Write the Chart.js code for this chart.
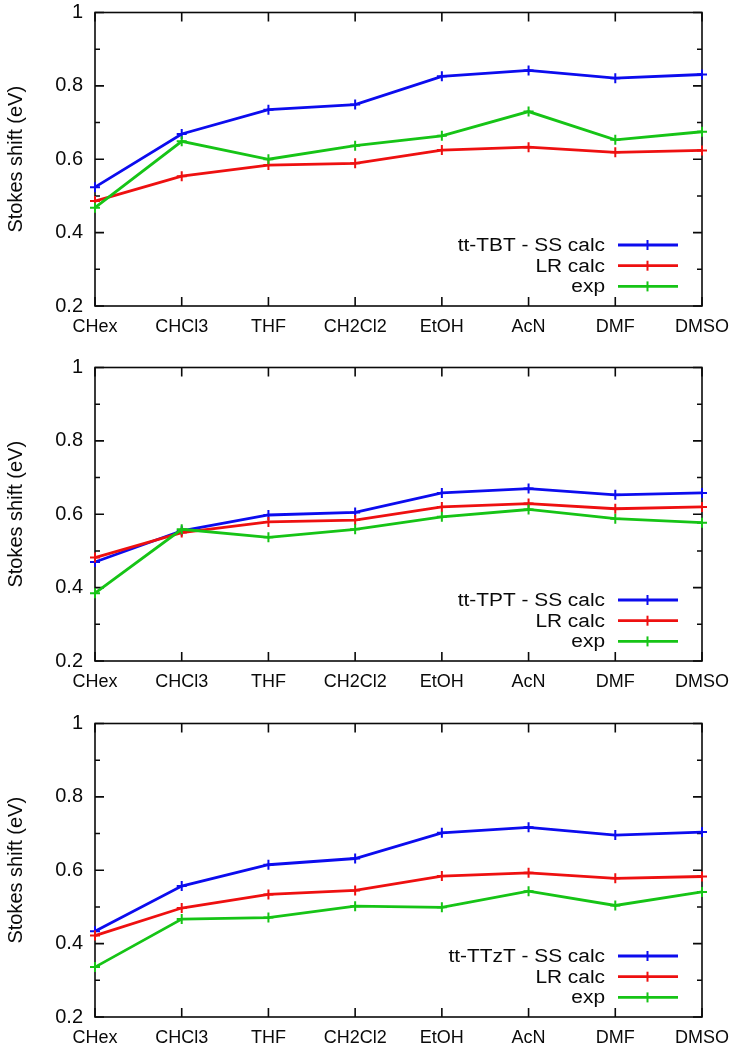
<!DOCTYPE html>
<html>
<head>
<meta charset="utf-8">
<script src="https://cdn.jsdelivr.net/npm/chart.js@4.4.1/dist/chart.umd.min.js"></script>
<style>
  html, body { margin: 0; padding: 0; background: #ffffff; }
  #wrap { position: relative; width: 732px; height: 1050px; background: #ffffff; }
  canvas { position: absolute; left: 0; }
</style>
</head>
<body>
<div id="wrap">
  <canvas id="c1" width="732" height="356" style="top:0px"></canvas>
  <canvas id="c2" width="732" height="356" style="top:355px"></canvas>
  <canvas id="c3" width="732" height="340" style="top:711px"></canvas>
</div>
<script>
// ---- data ----
const categories = ['CHex', 'CHCl3', 'THF', 'CH2Cl2', 'EtOH', 'AcN', 'DMF', 'DMSO'];
const yTickLabels = ['0.2', '0.4', '0.6', '0.8', '1'];
const yAxisTitle = 'Stokes shift (eV)';

const tbtLabels = ['tt-TBT - SS calc', 'LR calc', 'exp'];
const tbtSS  = [0.524, 0.669, 0.735, 0.749, 0.826, 0.842, 0.821, 0.831];
const tbtLR  = [0.486, 0.554, 0.584, 0.589, 0.625, 0.633, 0.619, 0.624];
const tbtExp = [0.468, 0.649, 0.600, 0.637, 0.664, 0.730, 0.653, 0.675];

const tptLabels = ['tt-TPT - SS calc', 'LR calc', 'exp'];
const tptSS  = [0.470, 0.555, 0.598, 0.605, 0.658, 0.670, 0.653, 0.658];
const tptLR  = [0.482, 0.550, 0.579, 0.584, 0.620, 0.629, 0.615, 0.620];
const tptExp = [0.385, 0.559, 0.537, 0.559, 0.593, 0.613, 0.588, 0.577];

const ttztLabels = ['tt-TTzT - SS calc', 'LR calc', 'exp'];
const ttztSS  = [0.434, 0.557, 0.615, 0.632, 0.702, 0.717, 0.696, 0.704];
const ttztLR  = [0.422, 0.497, 0.534, 0.545, 0.584, 0.593, 0.578, 0.583];
const ttztExp = [0.336, 0.467, 0.471, 0.502, 0.499, 0.543, 0.504, 0.541];

// ---- styling ----
const COLORS = ['#0c0cee', '#ee1010', '#16c416'];
const FONT = "'Liberation Sans', Arial, Helvetica, sans-serif";
const INK = '#0a0a0a';

const frameTicks = {
  id: 'frameTicks',
  beforeDatasetsDraw(chart) {
    const { ctx, chartArea: a, scales: { x, y } } = chart;
    ctx.save();
    ctx.strokeStyle = INK;
    ctx.lineWidth = 1.6;
    ctx.strokeRect(a.left, a.top, a.right - a.left, a.bottom - a.top);
    ctx.beginPath();
    const vals = y.ticks.map(t => t.value);
    vals.forEach((v, i) => {
      const py = y.getPixelForValue(v);
      ctx.moveTo(a.left, py); ctx.lineTo(a.left + 9, py);
      ctx.moveTo(a.right, py); ctx.lineTo(a.right - 9, py);
      if (i < vals.length - 1) {
        const pm = y.getPixelForValue((v + vals[i + 1]) / 2);
        ctx.moveTo(a.left, pm); ctx.lineTo(a.left + 5, pm);
        ctx.moveTo(a.right, pm); ctx.lineTo(a.right - 5, pm);
      }
    });
    x.ticks.forEach((t, i) => {
      const px = x.getPixelForTick(i);
      ctx.moveTo(px, a.bottom); ctx.lineTo(px, a.bottom - 9);
      ctx.moveTo(px, a.top); ctx.lineTo(px, a.top + 9);
    });
    ctx.stroke();
    ctx.restore();
  }
};

const insideLegend = {
  id: 'insideLegend',
  afterDraw(chart) {
    const { ctx, chartArea: a } = chart;
    ctx.save();
    chart.data.datasets.forEach((ds, i) => {
      const rowY = a.bottom - 61 + i * 20.7;
      const textRight = a.right - 97;
      ctx.save();
      ctx.translate(textRight, rowY);
      ctx.scale(1.16, 1);
      ctx.font = '18px ' + FONT;
      ctx.fillStyle = INK;
      ctx.textAlign = 'right';
      ctx.textBaseline = 'middle';
      ctx.fillText(ds.label, 0, 1);
      ctx.restore();
      ctx.strokeStyle = ds.borderColor;
      ctx.lineWidth = 2.8;
      ctx.beginPath();
      ctx.moveTo(a.right - 84, rowY); ctx.lineTo(a.right - 24, rowY);
      ctx.stroke();
      ctx.lineWidth = 2;
      ctx.beginPath();
      ctx.moveTo(a.right - 54.5, rowY - 5); ctx.lineTo(a.right - 54.5, rowY + 5);
      ctx.stroke();
    });
    ctx.restore();
  }
};

function makeChart(id, labels, series, canvasH) {
  const datasets = series.map((vals, i) => ({
    label: labels[i],
    data: vals,
    borderColor: COLORS[i],
    backgroundColor: COLORS[i],
    borderWidth: 2.8,
    pointStyle: 'cross',
    pointRadius: 5,
    pointBorderWidth: 2,
    pointHoverRadius: 5,
    tension: 0,
    fill: false,
    clip: false,
    order: 2 - i
  }));
  return new Chart(document.getElementById(id), {
    type: 'line',
    data: { labels: categories, datasets },
    options: {
      responsive: false,
      animation: false,
      devicePixelRatio: 1,
      layout: { padding: { top: 12.5, right: 30, bottom: 0, left: 0 } },
      plugins: { legend: { display: false }, tooltip: { enabled: false } },
      scales: {
        x: {
          type: 'category',
          offset: false,
          border: { display: false },
          grid: { display: false, drawTicks: false },
          ticks: {
            color: INK, padding: 10, maxRotation: 0, autoSkip: false,
            font: { family: FONT, size: 18 }
          },
          afterFit(scale) {
            scale.height = canvasH - 12.5 - 293.5;
            scale.paddingLeft = 0;
            scale.paddingRight = 0;
          }
        },
        y: {
          min: 0.2, max: 1,
          border: { display: false },
          grid: { display: false, drawTicks: false },
          ticks: {
            stepSize: 0.2, color: INK, padding: 12,
            font: { family: FONT, size: 20 },
            callback: (v) => yTickLabels[Math.round((v - 0.2) / 0.2)] ?? ''
          },
          title: {
            display: true, text: yAxisTitle, color: INK,
            font: { family: FONT, size: 20 },
            padding: { top: 4, bottom: 0 }
          },
          afterFit(scale) {
            scale.width = 95;
            scale.paddingTop = 0;
            scale.paddingBottom = 0;
          }
        }
      }
    },
    plugins: [frameTicks, insideLegend]
  });
}

makeChart('c1', tbtLabels, [tbtSS, tbtLR, tbtExp], 356);
makeChart('c2', tptLabels, [tptSS, tptLR, tptExp], 356);
makeChart('c3', ttztLabels, [ttztSS, ttztLR, ttztExp], 340);
</script>
</body>
</html>
